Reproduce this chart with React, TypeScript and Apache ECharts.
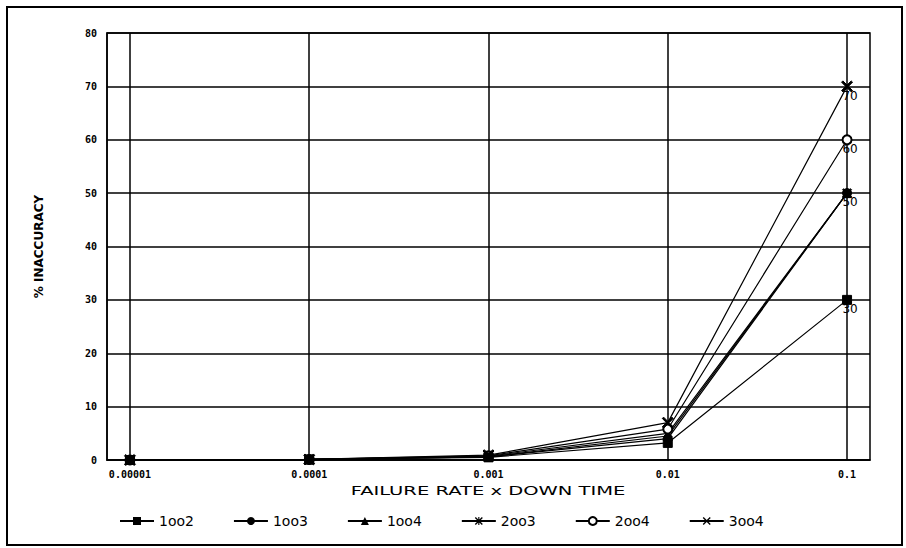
import React, { useEffect, useRef } from "react";
import * as echarts from "echarts";

const xValues = [0.00001, 0.0001, 0.001, 0.01, 0.1];
const xTickLabels = ["0.00001", "0.0001", "0.001", "0.01", "0.1"];
const yTicks = [0, 10, 20, 30, 40, 50, 60, 70, 80];
const xAxisTitle = "FAILURE RATE x DOWN TIME";

const s1oo2 = [0, 0.1, 0.5, 3.2, 30];
const s1oo3 = [0, 0.1, 0.6, 4.0, 50];
const s1oo4 = [0, 0.1, 0.6, 4.5, 50];
const s2oo3 = [0, 0.1, 0.7, 5.0, 50];
const s2oo4 = [0, 0.1, 0.8, 5.8, 60];
const s3oo4 = [0, 0.1, 0.9, 7.0, 70];

const seriesNames = ["1oo2", "1oo3", "1oo4", "2oo3", "2oo4", "3oo4"];

const X_PATH =
  "path://M0,1.2L1.2,0L5,3.8L8.8,0L10,1.2L6.2,5L10,8.8L8.8,10L5,6.2L1.2,10L0,8.8L3.8,5Z";
const AST_PATH =
  "path://M0,1.2L1.2,0L5,3.8L8.8,0L10,1.2L6.2,5L10,8.8L8.8,10L5,6.2L1.2,10L0,8.8L3.8,5Z M4.3,0L5.7,0L5.7,10L4.3,10Z";

export default function App() {
  const ref = useRef<HTMLDivElement>(null);
  useEffect(() => {
    if (!ref.current) return;
    const chart = echarts.init(ref.current, null, { renderer: "svg" });
    const lo = Math.pow(10, -5.128);
    const hi = Math.pow(10, -0.872);
    const mk = (vals: number[]) => vals.map((v, i) => [xValues[i], v]);
    const lastLabel = (vals: number[], show: boolean) =>
      mk(vals).map((d, i) =>
        i === vals.length - 1 && show
          ? {
              value: d,
              label: {
                show: true,
                position: "bottom",
                distance: 0,
                offset: [3, -2],
                formatter: String(vals[i]),
                fontSize: 12,
                color: "#000",
                fontFamily: "DejaVu Sans",
              },
            }
          : { value: d }
      );
    const base = {
      type: "line",
      lineStyle: { color: "#000", width: 1.2 },
      itemStyle: { color: "#000", borderColor: "#000" },
      symbolSize: 9,
      showAllSymbol: true,
      z: 3,
    };
    chart.setOption({
      animation: false,
      backgroundColor: "#fff",
      graphic: [
        {
          type: "rect",
          shape: { x: 7, y: 7, width: 895, height: 538 },
          style: { fill: "none", stroke: "#000", lineWidth: 2 },
          silent: true,
        },
        {
          type: "text",
          x: 488,
          y: 491,
          scaleX: 1.5,
          style: {
            text: xAxisTitle,
            fontSize: 13,
            fontFamily: "DejaVu Sans",
            fill: "#000",
            align: "center",
            verticalAlign: "middle",
          },
          silent: true,
        },
      ],
      grid: {
        left: 107,
        top: 33,
        right: 36,
        bottom: 88,
        show: true,
        borderColor: "#000",
        borderWidth: 1.5,
      },
      legend: {
        left: 114,
        top: 509,
        itemWidth: 34,
        itemHeight: 10,
        itemGap: 39,
        textStyle: { fontSize: 14, color: "#000", fontFamily: "DejaVu Sans" },
        data: seriesNames,
      },
      xAxis: {
        type: "log",
        min: lo,
        max: hi,
        axisLine: { show: true, lineStyle: { color: "#000", width: 1.5 } },
        axisTick: { show: false, customValues: xValues },
        axisLabel: {
          customValues: xValues,
          formatter: (v: number) => {
            const idx = xValues.findIndex((x) => Math.abs(Math.log10(x) - Math.log10(v)) < 1e-6);
            return idx >= 0 ? xTickLabels[idx] : "";
          },
          fontSize: 10,
          fontWeight: "bold",
          fontFamily: "DejaVu Sans Mono",
          color: "#000",
          margin: 9,
        },
        splitLine: { show: true, lineStyle: { color: "#000", width: 1.5 } },
      },
      yAxis: {
        type: "value",
        min: 0,
        max: 80,
        interval: 10,
        name: "% INACCURACY",
        nameLocation: "middle",
        nameGap: 62,
        nameTextStyle: {
          fontSize: 12,
          color: "#000",
          fontFamily: "DejaVu Sans",
          fontWeight: "bold",
        },
        axisLine: { show: true, lineStyle: { color: "#000", width: 1.5 } },
        axisTick: { show: false },
        axisLabel: {
          formatter: (v: number) => (yTicks.includes(v) ? String(v) : ""),
          fontSize: 10,
          fontWeight: "bold",
          fontFamily: "DejaVu Sans Mono",
          color: "#000",
          margin: 10,
        },
        splitLine: { show: true, lineStyle: { color: "#000", width: 1.5 } },
      },
      series: [
        { ...base, name: "1oo3", symbol: "circle", data: lastLabel(s1oo3, true) },
        { ...base, name: "1oo4", symbol: "triangle", data: lastLabel(s1oo4, false) },
        { ...base, name: "2oo3", symbol: AST_PATH, data: lastLabel(s2oo3, false) },
        {
          ...base,
          name: "2oo4",
          symbol: "emptyCircle",
          itemStyle: { color: "#000", borderColor: "#000", borderWidth: 1.2 },
          data: lastLabel(s2oo4, true),
        },
        { ...base, name: "3oo4", symbol: X_PATH, symbolSize: 11, data: lastLabel(s3oo4, true) },
        { ...base, name: "1oo2", symbol: "rect", z: 4, data: lastLabel(s1oo2, true) },
      ],
    });
    return () => chart.dispose();
  }, []);
  return (
    <div
      ref={ref}
      style={{ position: "fixed", left: 0, top: 0, width: 906, height: 548 }}
    />
  );
}
